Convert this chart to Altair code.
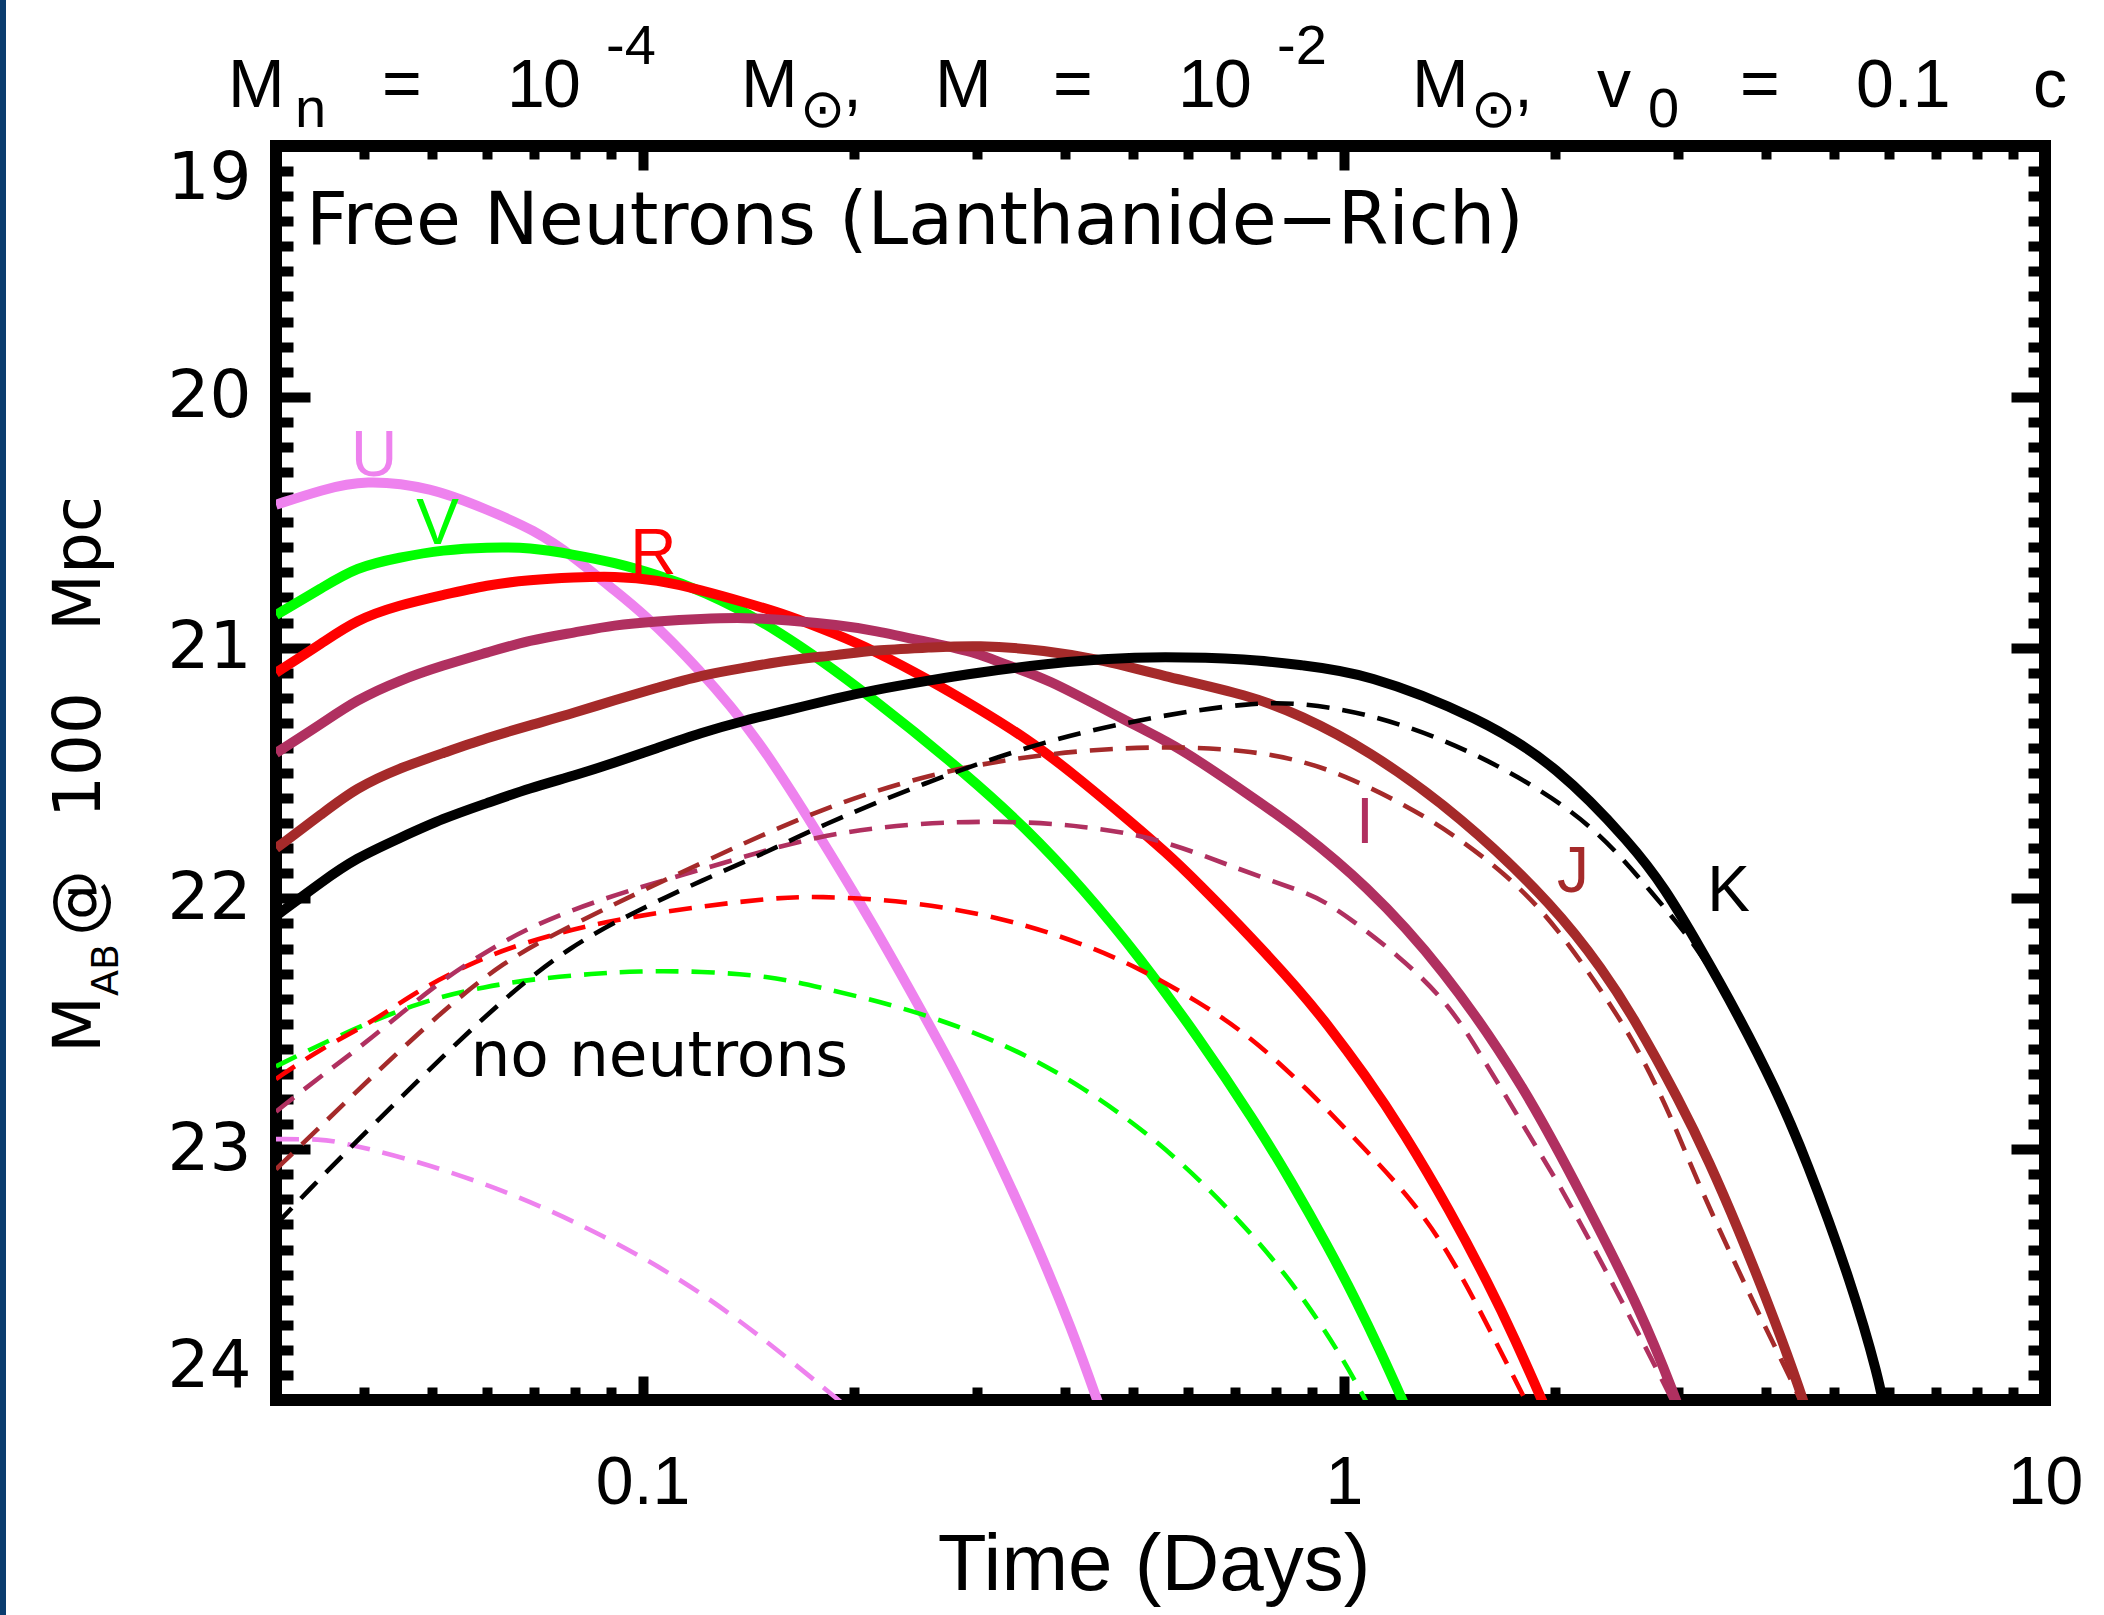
import altair as alt
import pandas as pd

# ---------------- data ----------------
BANDS = ["U", "V", "R", "I", "J", "K"]
COLORS = ["#EE82EE", "#00FF00", "#FF0000", "#B03060", "#A52A2A", "#000000"]

# free neutrons (solid curves)
U_t = [0.03, 0.035, 0.04, 0.05, 0.06, 0.07, 0.08, 0.09, 0.1, 0.12, 0.146, 0.176, 0.213, 0.257, 0.28, 0.314, 0.36, 0.41, 0.45]
U_mag = [20.43, 20.37, 20.33, 20.36, 20.45, 20.53, 20.64, 20.76, 20.86, 21.08, 21.36, 21.72, 22.10, 22.51, 22.70, 22.98, 23.34, 23.72, 24.04]

V_t = [0.03, 0.035, 0.039, 0.045, 0.052, 0.06, 0.069, 0.08, 0.091, 0.105, 0.121, 0.155, 0.213, 0.291, 0.352, 0.4245, 0.513, 0.619, 0.747, 0.842, 0.95, 1.04, 1.13, 1.23]
V_mag = [20.87, 20.76, 20.68, 20.64, 20.61, 20.60, 20.60, 20.63, 20.66, 20.71, 20.77, 20.92, 21.20, 21.51, 21.72, 21.96, 22.24, 22.55, 22.89, 23.13, 23.39, 23.60, 23.81, 24.04]

R_t = [0.03, 0.035, 0.039, 0.045, 0.052, 0.06, 0.069, 0.08, 0.091, 0.105, 0.121, 0.14, 0.161, 0.19, 0.213, 0.257, 0.30, 0.352, 0.41, 0.48, 0.56, 0.62, 0.735, 0.867, 0.946, 1.07, 1.216, 1.42, 1.61, 1.75, 1.93]
R_mag = [21.10, 20.98, 20.89, 20.83, 20.79, 20.75, 20.73, 20.72, 20.715, 20.73, 20.77, 20.82, 20.87, 20.95, 21.01, 21.13, 21.24, 21.36, 21.50, 21.66, 21.82, 21.94, 22.15, 22.37, 22.50, 22.70, 22.93, 23.25, 23.54, 23.75, 24.02]

I_t = [0.03, 0.035, 0.039, 0.045, 0.052, 0.06, 0.069, 0.08, 0.091, 0.105, 0.121, 0.14, 0.161, 0.19, 0.213, 0.257, 0.30, 0.33, 0.375, 0.48, 0.565, 0.62, 0.735, 0.867, 1.07, 1.38, 1.82, 2.2, 2.66, 2.98, 3.02]
I_mag = [21.42, 21.30, 21.21, 21.13, 21.07, 21.02, 20.97, 20.94, 20.91, 20.895, 20.885, 20.88, 20.89, 20.91, 20.93, 20.98, 21.02, 21.07, 21.12, 21.28, 21.38, 21.45, 21.59, 21.73, 21.94, 22.27, 22.76, 23.20, 23.65, 24.0, 24.05]

J_t = [0.03, 0.035, 0.039, 0.045, 0.052, 0.06, 0.069, 0.08, 0.091, 0.105, 0.121, 0.14, 0.161, 0.19, 0.213, 0.257, 0.30, 0.375, 0.4545, 0.5457, 0.7355, 0.867, 1.072, 1.468, 2.011, 2.346, 2.585, 3.017, 3.32, 3.643, 4.131, 4.51, 4.56]
J_mag = [21.80, 21.66, 21.56, 21.48, 21.42, 21.36, 21.31, 21.26, 21.21, 21.16, 21.11, 21.08, 21.05, 21.03, 21.01, 21.00, 20.99, 21.01, 21.05, 21.11, 21.19, 21.27, 21.40, 21.67, 22.04, 22.29, 22.47, 22.81, 23.05, 23.31, 23.69, 23.99, 24.04]

K_t = [0.03, 0.035, 0.039, 0.045, 0.052, 0.06, 0.069, 0.08, 0.091, 0.105, 0.121, 0.14, 0.161, 0.19, 0.213, 0.257, 0.30, 0.375, 0.4545, 0.5457, 0.7355, 0.867, 1.072, 1.564, 2.011, 2.585, 2.87, 3.213, 3.643, 4.131, 4.55, 5.309, 5.8, 5.9]
K_mag = [22.07, 21.93, 21.84, 21.76, 21.68, 21.62, 21.56, 21.51, 21.46, 21.40, 21.34, 21.29, 21.25, 21.20, 21.17, 21.13, 21.10, 21.065, 21.045, 21.035, 21.045, 21.07, 21.10, 21.28, 21.47, 21.79, 21.96, 22.19, 22.46, 22.76, 23.03, 23.54, 23.92, 24.04]

# no neutrons (dashed curves)
Ud_t = [0.03, 0.035, 0.0366, 0.0456, 0.0633, 0.0879, 0.122, 0.1623, 0.196]
Ud_mag = [22.96, 22.96, 22.97, 23.03, 23.16, 23.34, 23.57, 23.84, 24.03]

Vd_t = [0.03, 0.0366, 0.0481, 0.06, 0.0706, 0.085, 0.098, 0.121, 0.152, 0.176, 0.241, 0.33, 0.4245, 0.5457, 0.683, 0.842, 0.996, 1.083]
Vd_mag = [22.67, 22.55, 22.41, 22.35, 22.32, 22.30, 22.29, 22.29, 22.31, 22.35, 22.44, 22.58, 22.75, 22.97, 23.23, 23.52, 23.83, 24.02]

Rd_t = [0.03, 0.0347, 0.0408, 0.0476, 0.0567, 0.0668, 0.0879, 0.122, 0.152, 0.176, 0.241, 0.33, 0.4245, 0.5127, 0.619, 0.7355, 0.888, 1.072, 1.25, 1.419, 1.609, 1.83]
Rd_mag = [22.72, 22.60, 22.50, 22.37, 22.26, 22.18, 22.09, 22.03, 22.00, 21.99, 22.01, 22.08, 22.18, 22.28, 22.41, 22.55, 22.76, 23.0, 23.20, 23.42, 23.71, 24.02]

Id_t = [0.03, 0.0347, 0.0408, 0.0508, 0.0599, 0.0706, 0.0879, 0.1095, 0.13, 0.176, 0.241, 0.33, 0.4245, 0.5457, 0.702, 0.867, 0.946, 1.216, 1.419, 1.564, 1.713, 1.888, 2.069, 2.498, 2.905, 2.96]
Id_mag = [22.85, 22.71, 22.565, 22.34, 22.21, 22.10, 22.00, 21.92, 21.86, 21.75, 21.70, 21.69, 21.71, 21.76, 21.88, 21.97, 22.01, 22.24, 22.43, 22.62, 22.80, 23.0, 23.18, 23.61, 23.97, 24.02]

Jd_t = [0.03, 0.0347, 0.0408, 0.0508, 0.0633, 0.0788, 0.098, 0.121, 0.176, 0.2567, 0.374, 0.5457, 0.7355, 0.867, 1.007, 1.337, 1.72, 2.011, 2.428, 2.661, 2.931, 3.213, 3.879, 4.453, 4.5]
Jd_mag = [23.08, 22.91, 22.72, 22.47, 22.25, 22.11, 21.98, 21.86, 21.65, 21.50, 21.42, 21.39, 21.41, 21.45, 21.51, 21.68, 21.91, 22.11, 22.44, 22.63, 22.87, 23.15, 23.64, 23.98, 24.02]

Kd_t = [0.03, 0.0335, 0.0387, 0.0497, 0.0633, 0.0788, 0.098, 0.121, 0.152, 0.176, 0.2567, 0.374, 0.5457, 0.7355, 0.867, 1.072, 1.379, 1.773, 2.28, 2.754, 3.213, 3.643, 4.131, 4.55, 5.309, 5.8, 5.9]
Kd_mag = [23.30, 23.16, 22.98, 22.68, 22.40, 22.19, 22.05, 21.93, 21.81, 21.72, 21.53, 21.37, 21.27, 21.22, 21.22, 21.26, 21.36, 21.51, 21.71, 21.98, 22.20, 22.47, 22.77, 23.04, 23.55, 23.93, 24.05]

# band labels
LABEL_TEXT = ["U", "V", "R", "I", "J", "K"]
LABEL_T = [0.0414, 0.0510, 0.1036, 1.072, 2.122, 3.537]
LABEL_MAG = [20.317, 20.585, 20.708, 21.778, 21.976, 22.05]

# annotations
NOTE_TEXT = ["Free Neutrons (Lanthanide\u2212Rich)", "no neutrons"]
NOTE_T = [0.0331, 0.0568]
NOTE_MAG = [19.39, 22.71]

# axis ticks
X_MAJOR = [0.1, 1, 10]
X_MINOR = [0.04, 0.05, 0.06, 0.07, 0.08, 0.09, 0.2, 0.3, 0.4, 0.5, 0.6, 0.7, 0.8, 0.9,
           2, 3, 4, 5, 6, 7, 8, 9]
Y_MAJOR = [19, 20, 21, 22, 23, 24]
Y_MINOR = [round(19 + k / 10, 1) for k in range(1, 50) if k % 10 != 0]

# ---------------- tables ----------------
solid_sets = [("U", U_t, U_mag), ("V", V_t, V_mag), ("R", R_t, R_mag),
              ("I", I_t, I_mag), ("J", J_t, J_mag), ("K", K_t, K_mag)]
dashed_sets = [("U", Ud_t, Ud_mag), ("V", Vd_t, Vd_mag), ("R", Rd_t, Rd_mag),
               ("I", Id_t, Id_mag), ("J", Jd_t, Jd_mag), ("K", Kd_t, Kd_mag)]


def long_table(sets):
    rows = []
    for band, ts, ms in sets:
        for t, m in zip(ts, ms):
            rows.append({"band": band, "t": t, "mag": m})
    return pd.DataFrame(rows)


solid_df = long_table(solid_sets)
dashed_df = long_table(dashed_sets)
label_df = pd.DataFrame({"band": LABEL_TEXT, "txt": LABEL_TEXT, "t": LABEL_T, "mag": LABEL_MAG})
note_df = pd.DataFrame({"txt": NOTE_TEXT, "t": NOTE_T, "mag": NOTE_MAG,
                        "size": [73, 63]})

# ---------------- styling ----------------
W, H = 1769, 1254
PAD = {"left": 276, "top": 146, "right": 2104 - 276 - W, "bottom": 1615 - 146 - H}
XMAJ, XMIN = 24, 13
YMAJ, YMIN = 34, 17
TICKW = 10
LS = "Liberation Sans, Arial, Helvetica, sans-serif"
DJ = "DejaVu Sans, Verdana, sans-serif"

x_scale = alt.Scale(type="log", domain=[0.03, 10], nice=False)
y_scale = alt.Scale(domain=[19, 24], reverse=True, nice=False, zero=False)
c_scale = alt.Scale(domain=BANDS, range=COLORS)


def x_axis(orient, values, size, labels=False):
    kw = dict(orient=orient, values=values, tickSize=size, offset=-size, domain=False,
              grid=False, ticks=True, tickWidth=TICKW, tickColor="black", labels=labels,
              title=None)
    if labels:
        kw.update(labelFont=LS, labelFontSize=68, labelColor="black", labelPadding=103,
                  labelBaseline="alphabetic", labelFlush=False, labelOverlap=False,
                  format="~g")
    return alt.Axis(**kw)


def y_axis(orient, values, size, labels=False):
    kw = dict(orient=orient, values=values, tickSize=size, offset=-size, domain=False,
              grid=False, ticks=True, tickWidth=TICKW, tickColor="black", labels=labels,
              title=None)
    if labels:
        kw.update(labelFont=DJ, labelFontSize=66, labelColor="black", labelPadding=25,
                  labelFlush=True, labelOverlap=False, format="d")
    return alt.Axis(**kw)


solid = alt.Chart(solid_df).mark_line(strokeWidth=10, clip=True, interpolate="basis").encode(
    x=alt.X("t:Q", scale=x_scale, axis=x_axis("bottom", X_MAJOR, XMAJ, labels=True)),
    y=alt.Y("mag:Q", scale=y_scale, axis=y_axis("left", Y_MAJOR, YMAJ, labels=True)),
    color=alt.Color("band:N", scale=c_scale, legend=None),
    detail="band:N",
)

dashed = alt.Chart(dashed_df).mark_line(strokeWidth=4.6, strokeDash=[23, 13], clip=True,
                                        interpolate="basis").encode(
    x=alt.X("t:Q", scale=x_scale, axis=x_axis("bottom", X_MINOR, XMIN)),
    y=alt.Y("mag:Q", scale=y_scale, axis=y_axis("left", Y_MINOR, YMIN)),
    color=alt.Color("band:N", scale=c_scale, legend=None),
    detail="band:N",
)

band_labels = alt.Chart(label_df).mark_text(font=LS, fontSize=64, align="center",
                                            baseline="alphabetic").encode(
    x=alt.X("t:Q", scale=x_scale, axis=x_axis("top", X_MAJOR, XMAJ)),
    y=alt.Y("mag:Q", scale=y_scale, axis=y_axis("right", Y_MAJOR, YMAJ)),
    color=alt.Color("band:N", scale=c_scale, legend=None),
    text="txt:N",
)

notes = alt.Chart(note_df).mark_text(font=DJ, align="left", baseline="alphabetic",
                                     color="black").encode(
    x=alt.X("t:Q", scale=x_scale, axis=x_axis("top", X_MINOR, XMIN)),
    y=alt.Y("mag:Q", scale=y_scale, axis=y_axis("right", Y_MINOR, YMIN)),
    text="txt:N",
    size=alt.Size("size:Q", scale=None, legend=None),
)


def txt(s, x, y, size, font=LS, angle=0, align="left"):
    return alt.Chart(alt.Data(values=[{}])).mark_text(
        text=s, font=font, fontSize=size, align=align, baseline="alphabetic",
        angle=angle, color="black").encode(x=alt.value(x), y=alt.value(y))


BIG, SMALL, SUN = 68, 56, 54
B0, BSUB, BSUP = -39, -19, -82
title_layers = [
    txt("M", -48, B0, BIG), txt("n", 19, BSUB, SMALL), txt("=", 106, B0, BIG),
    txt("1", 231, B0, BIG), txt("0", 267, B0, BIG),
    txt("-4", 330, BSUP, SMALL), txt("M", 465, B0, BIG),
    txt("\u2299", 524, BSUB, SUN, DJ), txt(",", 567, B0, BIG),
    txt("M", 659, B0, BIG), txt("=", 777, B0, BIG),
    txt("1", 902, B0, BIG), txt("0", 938, B0, BIG),
    txt("-2", 1001, BSUP, SMALL), txt("M", 1136, B0, BIG),
    txt("\u2299", 1195, BSUB, SUN, DJ), txt(",", 1238, B0, BIG),
    txt("v", 1321, B0, BIG), txt("0", 1372, BSUB, SMALL), txt("=", 1464, B0, BIG),
    txt("0.1", 1580, B0, BIG), txt("c", 1757, B0, BIG),
]

ytitle_layers = [
    txt("M", -176, 907, 66, DJ, 270), txt("AB", -158, 850, 38, DJ, 270),
    txt("@", -176, 790, 66, DJ, 270), txt("100", -176, 672, 66, DJ, 270),
    txt("Mpc", -176, 485, 66, DJ, 270),
]

xtitle = txt("Time (Days)", 878, 1444, 80, LS, 0, "center")

strip = alt.Chart(alt.Data(values=[{}])).mark_rect(color="#0B3C6E").encode(
    x=alt.value(-276), x2=alt.value(-270), y=alt.value(-146), y2=alt.value(1615 - 146))

chart = alt.layer(
    solid, dashed, band_labels, notes, *title_layers, *ytitle_layers, xtitle, strip
).resolve_axis(x="independent", y="independent").properties(
    width=W, height=H, autosize=alt.AutoSizeParams(type="none"), padding=PAD,
    background="white",
).configure_view(stroke="black", strokeWidth=12)

chart.save("out.html", embed_options={"renderer": "svg", "actions": False})
